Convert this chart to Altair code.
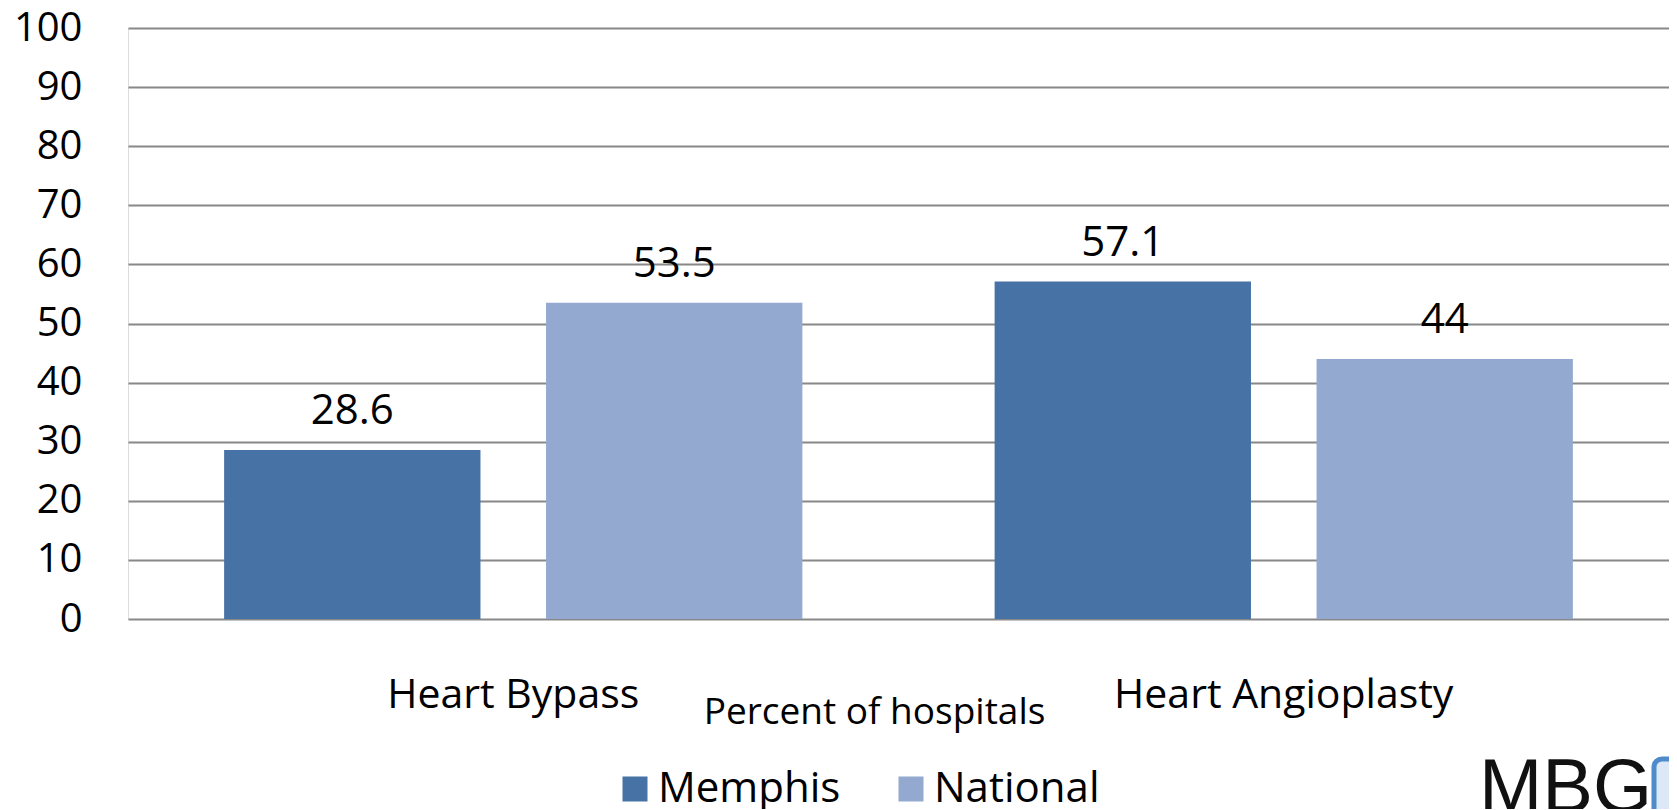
import altair as alt
import pandas as pd

procedures = ["Heart Bypass", "Heart Bypass", "Heart Angioplasty", "Heart Angioplasty"]
regions = ["Memphis", "National", "Memphis", "National"]
values = [28.6, 53.5, 57.1, 44]

df = pd.DataFrame({"procedure": procedures, "region": regions, "value": values})

FONT = "Open Sans"
colors = ["#4672A6", "#94A9CF"]

x = alt.X("procedure:N", sort=["Heart Bypass", "Heart Angioplasty"],
          scale=alt.Scale(paddingInner=0, paddingOuter=0),
          axis=alt.Axis(title="Percent of hospitals", labelAngle=0, domain=False, ticks=False,
                        labelFontSize=41, labelFont=FONT, labelColor="#000000", labelPadding=56,
                        labelLimit=0,
                        titleFontSize=37, titleFont=FONT, titleFontWeight="normal", titleColor="#000000",
                        titleX=746, titleY=93, titleBaseline="middle", titleLimit=0))
xo = alt.XOffset("region:N", sort=["Memphis", "National"],
                 scale=alt.Scale(paddingInner=0.2037, paddingOuter=0.2986))
y = alt.Y("value:Q", scale=alt.Scale(domain=[0, 100]),
          axis=alt.Axis(title=None, values=list(range(0, 101, 10)), domain=False, ticks=False,
                        labelFontSize=40, labelFont=FONT, labelColor="#000000", labelPadding=46,
                        gridColor="#888888", gridWidth=2, gridOpacity=1))

bars = alt.Chart(df).mark_bar().encode(
    x=x, xOffset=xo, y=y,
    color=alt.Color("region:N", sort=["Memphis", "National"],
                    scale=alt.Scale(domain=["Memphis", "National"], range=colors),
                    legend=alt.Legend(title=None, orient="none", direction="horizontal",
                                      legendX=486, legendY=740, labelFontSize=42, labelFont=FONT,
                                      labelColor="#000000", symbolType="square", symbolSize=625,
                                      symbolStrokeWidth=0, labelOffset=2, columnPadding=49,
                                      symbolOpacity=1, labelLimit=0)),
)

labels = alt.Chart(df).mark_text(fontSize=42, font=FONT, color="#000000", dy=-39, baseline="middle").encode(
    x=x, xOffset=xo, y=y, text=alt.Text("value:Q"),
)

logo = alt.Chart(alt.Data(values=[{"t": "MBG"}])).mark_text(
    font="Liberation Sans", fontSize=76, color="#111111", align="left", baseline="alphabetic"
).encode(x=alt.value(1351), y=alt.value(784), text=alt.Text("t:N"))

logo_box = alt.Chart(alt.Data(values=[{"t": "MBG"}])).mark_rect(
    fill="#DCE8F6", stroke="#4F8BCB", strokeWidth=5, cornerRadius=8
).encode(x=alt.value(1526), x2=alt.value(1575), y=alt.value(731), y2=alt.value(800))

chart = alt.layer(bars, labels, logo, logo_box).properties(
    width=1541, height=591,
    autosize=alt.AutoSizeParams(type="none"),
    padding={"left": 120, "top": 20, "right": 0, "bottom": 190},
).configure_view(stroke=None, clip=False).configure(background="white")

chart.save("out.html", embed_options={"renderer": "svg", "actions": False})
